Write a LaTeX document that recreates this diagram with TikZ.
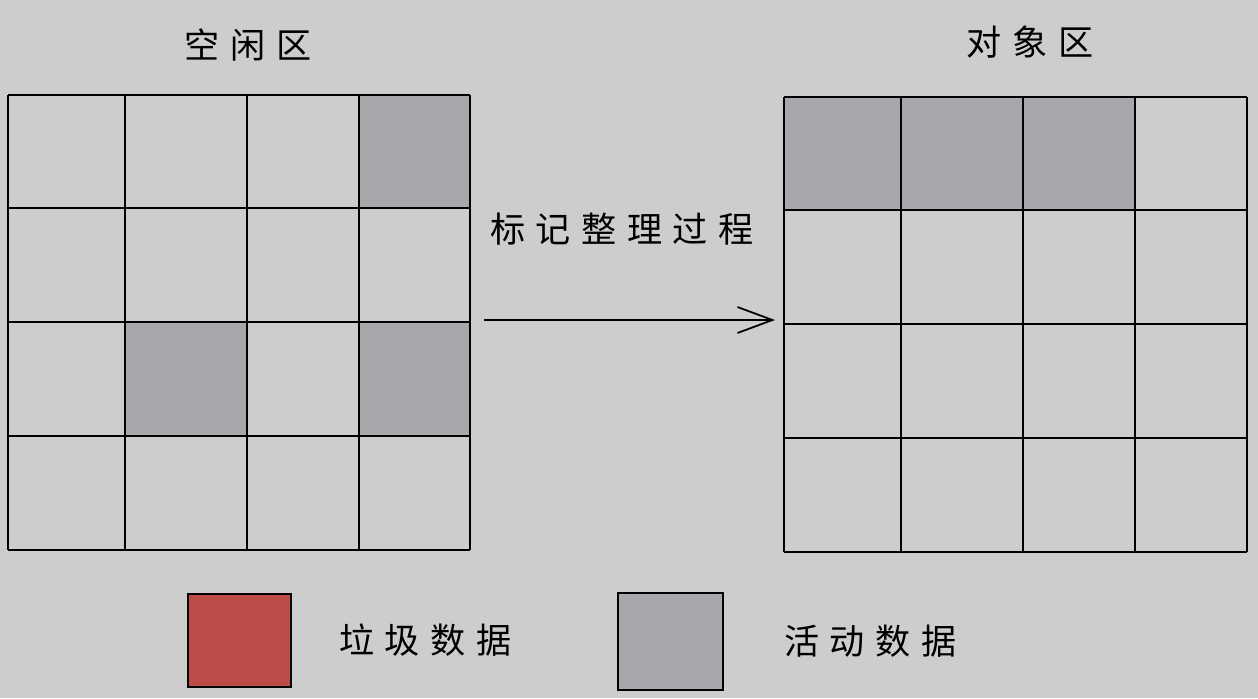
\documentclass[tikz,border=0pt]{standalone}
\usepackage{fontspec}
\newfontfamily\cjk[LetterSpace=30]{Noto Sans CJK SC}
\usetikzlibrary{positioning, arrows.meta}
\definecolor{paper}{HTML}{CDCDCD}
\definecolor{livegray}{HTML}{A6A8AB}
\definecolor{trashred}{HTML}{BD4B47}
\tikzset{
  gridline/.style={
    draw=black,
    line width=1.1pt
  },
  livecell/.style={
    fill=livegray
  },
  legendbox/.style={
    draw=black,
    line width=1.1pt,
    rectangle,
    inner sep=0pt
  },
  handtext/.style={
    font=\cjk\fontsize{20pt}{24pt}\selectfont,
    inner sep=0pt
  },
  flow/.style={
    line width=1pt,
    -{Straight Barb[length=0.7cm, width=0.52cm, line width=1pt]}
  }
}
\begin{document}
\begin{tikzpicture}[x=0.02cm, y=-0.02cm]
        \fill[paper] (0,0) rectangle (1258,698);
        \useasboundingbox (0,0) rectangle (1258,698);

        \fill[livecell] (359,95) rectangle (470,208);
        \fill[livecell] (125,322) rectangle (247,436);
        \fill[livecell] (359,322) rectangle (470,436);
        \foreach \x in {8,125,247,359,470}
          \draw[gridline] (\x,95) -- (\x,550);
        \foreach \y in {95,208,322,436,550}
          \draw[gridline] (8,\y) -- (470,\y);

        \fill[livecell] (784,97) rectangle (1135,210);
        \foreach \x in {784,901,1023,1135,1247}
          \draw[gridline] (\x,97) -- (\x,552);
        \foreach \y in {97,210,324,438,552}
          \draw[gridline] (784,\y) -- (1247,\y);

        \node[handtext] (freetitle) at (248,45) {空闲区};
        \node[handtext] (objtitle) at (1030,42) {对象区};

        \coordinate (sweepfrom) at (484,320);
        \coordinate (sweepto) at (775,320);
        \draw[flow] (sweepfrom) -- (sweepto);
        \node[handtext] (sweeplabel) at (622,229) {标记整理过程};

        \node[legendbox, fill=trashred, minimum width=2.06cm, minimum height=1.86cm] (trashbox) at (239.5,640.5) {};
        \node[handtext, right=0.94cm of trashbox] (trashtext) {垃圾数据};
        \node[legendbox, fill=livegray, minimum width=2.1cm, minimum height=1.94cm] (livebox) at (670.5,641.5) {};
        \node[handtext, right=1.2cm of livebox] (livetext) {活动数据};
      \end{tikzpicture}
\end{document}
